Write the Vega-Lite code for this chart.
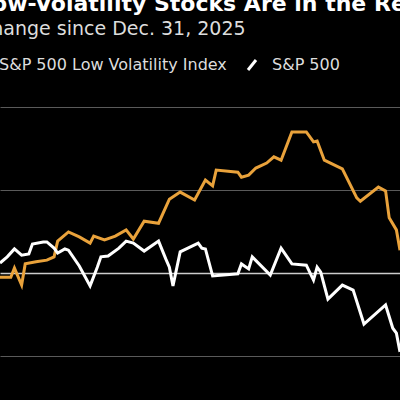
{
  "$schema": "https://vega.github.io/schema/vega-lite/v6.json",
  "width": 400,
  "height": 300,
  "autosize": {"type": "none"},
  "padding": {"left": 0, "top": 100, "right": 0, "bottom": 0},
  "background": "#000000",
  "title": {
    "text": "Low-Volatility Stocks Are in the Red",
    "subtitle": "Change since Dec. 31, 2025",
    "anchor": "start",
    "frame": "group",
    "dx": -22,
    "offset": 17,
    "font": "DejaVu Sans",
    "fontSize": 22,
    "fontWeight": "bold",
    "color": "#ffffff",
    "subtitleFont": "DejaVu Sans",
    "subtitleFontSize": 19,
    "subtitleColor": "#dddddd",
    "subtitlePadding": 4
  },
  "data": {
    "values": [
      {"date": "2026-01-02", "series": "S&P 500 Low Volatility Index", "change": -0.10},
      {"date": "2026-01-05", "series": "S&P 500 Low Volatility Index", "change": -0.10},
      {"date": "2026-01-06", "series": "S&P 500 Low Volatility Index", "change": 0.12},
      {"date": "2026-01-08", "series": "S&P 500 Low Volatility Index", "change": -0.29},
      {"date": "2026-01-09", "series": "S&P 500 Low Volatility Index", "change": 0.22},
      {"date": "2026-01-12", "series": "S&P 500 Low Volatility Index", "change": 0.27},
      {"date": "2026-01-15", "series": "S&P 500 Low Volatility Index", "change": 0.31},
      {"date": "2026-01-17", "series": "S&P 500 Low Volatility Index", "change": 0.39},
      {"date": "2026-01-18", "series": "S&P 500 Low Volatility Index", "change": 0.77},
      {"date": "2026-01-21", "series": "S&P 500 Low Volatility Index", "change": 0.99},
      {"date": "2026-01-24", "series": "S&P 500 Low Volatility Index", "change": 0.87},
      {"date": "2026-01-27", "series": "S&P 500 Low Volatility Index", "change": 0.72},
      {"date": "2026-01-28", "series": "S&P 500 Low Volatility Index", "change": 0.89},
      {"date": "2026-01-31", "series": "S&P 500 Low Volatility Index", "change": 0.80},
      {"date": "2026-02-03", "series": "S&P 500 Low Volatility Index", "change": 0.89},
      {"date": "2026-02-06", "series": "S&P 500 Low Volatility Index", "change": 1.04},
      {"date": "2026-02-08", "series": "S&P 500 Low Volatility Index", "change": 0.82},
      {"date": "2026-02-11", "series": "S&P 500 Low Volatility Index", "change": 1.25},
      {"date": "2026-02-15", "series": "S&P 500 Low Volatility Index", "change": 1.20},
      {"date": "2026-02-18", "series": "S&P 500 Low Volatility Index", "change": 1.78},
      {"date": "2026-02-21", "series": "S&P 500 Low Volatility Index", "change": 1.95},
      {"date": "2026-02-25", "series": "S&P 500 Low Volatility Index", "change": 1.76},
      {"date": "2026-02-28", "series": "S&P 500 Low Volatility Index", "change": 2.24},
      {"date": "2026-03-02", "series": "S&P 500 Low Volatility Index", "change": 2.10},
      {"date": "2026-03-03", "series": "S&P 500 Low Volatility Index", "change": 2.48},
      {"date": "2026-03-09", "series": "S&P 500 Low Volatility Index", "change": 2.43},
      {"date": "2026-03-10", "series": "S&P 500 Low Volatility Index", "change": 2.31},
      {"date": "2026-03-12", "series": "S&P 500 Low Volatility Index", "change": 2.36},
      {"date": "2026-03-14", "series": "S&P 500 Low Volatility Index", "change": 2.53},
      {"date": "2026-03-17", "series": "S&P 500 Low Volatility Index", "change": 2.65},
      {"date": "2026-03-19", "series": "S&P 500 Low Volatility Index", "change": 2.80},
      {"date": "2026-03-21", "series": "S&P 500 Low Volatility Index", "change": 2.72},
      {"date": "2026-03-24", "series": "S&P 500 Low Volatility Index", "change": 3.40},
      {"date": "2026-03-28", "series": "S&P 500 Low Volatility Index", "change": 3.40},
      {"date": "2026-03-30", "series": "S&P 500 Low Volatility Index", "change": 3.16},
      {"date": "2026-03-31", "series": "S&P 500 Low Volatility Index", "change": 3.18},
      {"date": "2026-04-02", "series": "S&P 500 Low Volatility Index", "change": 2.72},
      {"date": "2026-04-07", "series": "S&P 500 Low Volatility Index", "change": 2.51},
      {"date": "2026-04-11", "series": "S&P 500 Low Volatility Index", "change": 1.81},
      {"date": "2026-04-12", "series": "S&P 500 Low Volatility Index", "change": 1.73},
      {"date": "2026-04-17", "series": "S&P 500 Low Volatility Index", "change": 2.07},
      {"date": "2026-04-19", "series": "S&P 500 Low Volatility Index", "change": 1.98},
      {"date": "2026-04-20", "series": "S&P 500 Low Volatility Index", "change": 1.33},
      {"date": "2026-04-22", "series": "S&P 500 Low Volatility Index", "change": 1.04},
      {"date": "2026-04-23", "series": "S&P 500 Low Volatility Index", "change": 0.55},
      {"date": "2026-01-02", "series": "S&P 500", "change": 0.24},
      {"date": "2026-01-04", "series": "S&P 500", "change": 0.39},
      {"date": "2026-01-06", "series": "S&P 500", "change": 0.58},
      {"date": "2026-01-08", "series": "S&P 500", "change": 0.43},
      {"date": "2026-01-10", "series": "S&P 500", "change": 0.46},
      {"date": "2026-01-11", "series": "S&P 500", "change": 0.70},
      {"date": "2026-01-14", "series": "S&P 500", "change": 0.75},
      {"date": "2026-01-15", "series": "S&P 500", "change": 0.75},
      {"date": "2026-01-17", "series": "S&P 500", "change": 0.60},
      {"date": "2026-01-18", "series": "S&P 500", "change": 0.48},
      {"date": "2026-01-20", "series": "S&P 500", "change": 0.58},
      {"date": "2026-01-21", "series": "S&P 500", "change": 0.55},
      {"date": "2026-01-24", "series": "S&P 500", "change": 0.17},
      {"date": "2026-01-27", "series": "S&P 500", "change": -0.31},
      {"date": "2026-01-29", "series": "S&P 500", "change": 0.14},
      {"date": "2026-01-30", "series": "S&P 500", "change": 0.39},
      {"date": "2026-02-01", "series": "S&P 500", "change": 0.41},
      {"date": "2026-02-04", "series": "S&P 500", "change": 0.60},
      {"date": "2026-02-06", "series": "S&P 500", "change": 0.77},
      {"date": "2026-02-08", "series": "S&P 500", "change": 0.72},
      {"date": "2026-02-11", "series": "S&P 500", "change": 0.53},
      {"date": "2026-02-15", "series": "S&P 500", "change": 0.77},
      {"date": "2026-02-17", "series": "S&P 500", "change": 0.34},
      {"date": "2026-02-18", "series": "S&P 500", "change": 0.14},
      {"date": "2026-02-19", "series": "S&P 500", "change": -0.31},
      {"date": "2026-02-21", "series": "S&P 500", "change": 0.51},
      {"date": "2026-02-26", "series": "S&P 500", "change": 0.72},
      {"date": "2026-02-27", "series": "S&P 500", "change": 0.60},
      {"date": "2026-02-28", "series": "S&P 500", "change": 0.58},
      {"date": "2026-03-02", "series": "S&P 500", "change": -0.07},
      {"date": "2026-03-09", "series": "S&P 500", "change": -0.02},
      {"date": "2026-03-10", "series": "S&P 500", "change": 0.22},
      {"date": "2026-03-12", "series": "S&P 500", "change": 0.10},
      {"date": "2026-03-13", "series": "S&P 500", "change": 0.39},
      {"date": "2026-03-18", "series": "S&P 500", "change": -0.05},
      {"date": "2026-03-21", "series": "S&P 500", "change": 0.60},
      {"date": "2026-03-24", "series": "S&P 500", "change": 0.22},
      {"date": "2026-03-28", "series": "S&P 500", "change": 0.19},
      {"date": "2026-03-30", "series": "S&P 500", "change": -0.17},
      {"date": "2026-03-31", "series": "S&P 500", "change": 0.14},
      {"date": "2026-04-01", "series": "S&P 500", "change": 0.02},
      {"date": "2026-04-03", "series": "S&P 500", "change": -0.63},
      {"date": "2026-04-07", "series": "S&P 500", "change": -0.29},
      {"date": "2026-04-10", "series": "S&P 500", "change": -0.41},
      {"date": "2026-04-13", "series": "S&P 500", "change": -1.23},
      {"date": "2026-04-19", "series": "S&P 500", "change": -0.77},
      {"date": "2026-04-21", "series": "S&P 500", "change": -1.33},
      {"date": "2026-04-22", "series": "S&P 500", "change": -1.45},
      {"date": "2026-04-23", "series": "S&P 500", "change": -1.90}
    ]
  },
  "mark": {"type": "line", "strokeWidth": 3, "clip": true},
  "encoding": {
    "x": {
      "field": "date",
      "type": "temporal",
      "scale": {
        "type": "utc",
        "domain": [
          {"year": 2026, "month": 1, "date": 2, "utc": true},
          {"year": 2026, "month": 4, "date": 23, "utc": true}
        ]
      },
      "axis": null
    },
    "y": {
      "field": "change",
      "type": "quantitative",
      "scale": {"domain": [-3.06, 4.17], "nice": false, "zero": false},
      "axis": {
        "orient": "right",
        "values": [-2, 0, 2, 4],
        "labels": false,
        "ticks": false,
        "domain": false,
        "title": null,
        "grid": true,
        "gridColor": {"condition": {"test": "datum.value === 0", "value": "#cccccc"}, "value": "#5a5a5a"},
        "gridWidth": {"condition": {"test": "datum.value === 0", "value": 1.5}, "value": 1}
      }
    },
    "color": {
      "field": "series",
      "type": "nominal",
      "scale": {
        "domain": ["S&P 500 Low Volatility Index", "S&P 500"],
        "range": ["#e9a23b", "#ffffff"]
      },
      "legend": {
        "title": null,
        "orient": "none",
        "direction": "horizontal",
        "legendX": -29,
        "legendY": -43,
        "padding": 0,
        "symbolType": "M-0.8,1L0.8,-1",
        "symbolSize": 100,
        "symbolStrokeWidth": 3,
        "labelFont": "DejaVu Sans",
        "labelFontSize": 16,
        "labelColor": "#dddddd",
        "labelLimit": 0,
        "labelOffset": 12,
        "columnPadding": 15
      }
    }
  },
  "config": {"view": {"stroke": null}}
}
